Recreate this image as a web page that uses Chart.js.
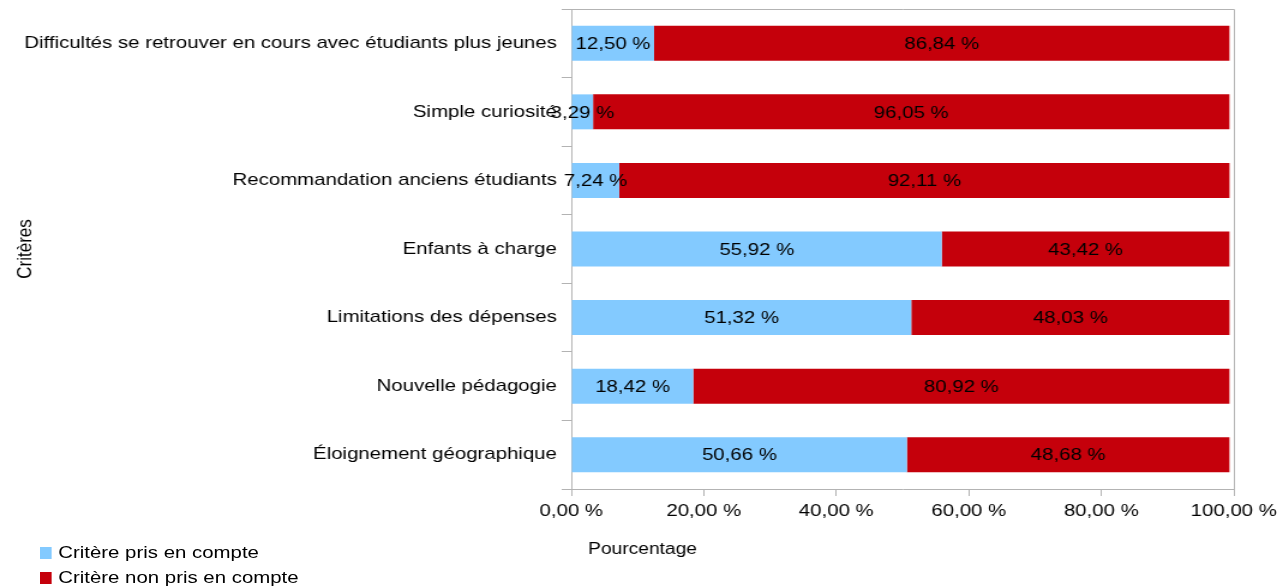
<!DOCTYPE html>
<html><head><meta charset="utf-8">
<script src="https://cdn.jsdelivr.net/npm/chart.js@4"></script>
<style>
html,body{margin:0;padding:0;background:#fff;overflow:hidden;}
#wrap{position:relative;width:1064px;height:587px;transform-origin:0 0;transform:scaleX(1.2002);}
canvas{position:absolute;left:0;top:0;}
.leg{position:absolute;left:32.5px;height:20px;font:17px "Liberation Sans",Arial,sans-serif;color:#000;display:flex;align-items:center;white-space:nowrap;}
.leg i{display:inline-block;width:10px;height:12px;margin-right:6px;}
</style></head><body>
<div id="wrap"><canvas id="c" width="1064" height="587"></canvas><div id="legend"></div></div>
<script>
const categories = [
  'Difficultés se retrouver en cours avec étudiants plus jeunes',
  'Simple curiosité',
  'Recommandation anciens étudiants',
  'Enfants à charge',
  'Limitations des dépenses',
  'Nouvelle pédagogie',
  'Éloignement géographique'
];
const seriesNames = ['Critère pris en compte', 'Critère non pris en compte'];
const prisEnCompte = [12.50, 3.29, 7.24, 55.92, 51.32, 18.42, 50.66];
const nonPrisEnCompte = [86.84, 96.05, 92.11, 43.42, 48.03, 80.92, 48.68];
const xTickValues = [0, 20, 40, 60, 80, 100];
const xAxisTitle = 'Pourcentage';
const yAxisTitle = 'Critères';
const seriesColors = ['#83caff', '#c5000b'];

const FONT = '"Liberation Sans", Arial, sans-serif';
const fmt = v => v.toFixed(2).replace('.', ',') + ' %';

const frame = {
  id: 'frame',
  afterDraw(chart) {
    const {ctx, chartArea: a} = chart;
    ctx.save();
    ctx.strokeStyle = '#b3b3b3';
    ctx.lineWidth = 1;
    ctx.beginPath();
    ctx.moveTo(a.left, a.top + 0.5);
    ctx.lineTo(a.right + 0.5, a.top + 0.5);
    ctx.lineTo(a.right + 0.5, a.bottom);
    ctx.stroke();
    // x axis title, placed just right of the axis origin
    ctx.font = '16px ' + FONT;
    ctx.fillStyle = '#000';
    ctx.textAlign = 'left';
    ctx.textBaseline = 'middle';
    ctx.fillText(xAxisTitle, a.left + 14, a.bottom + 61);
    ctx.restore();
  }
};

const labels = {
  id: 'labels',
  afterDatasetsDraw(chart) {
    const {ctx} = chart;
    ctx.save();
    ctx.font = '17px ' + FONT;
    ctx.fillStyle = '#000';
    ctx.textAlign = 'center';
    ctx.textBaseline = 'middle';
    chart.data.datasets.forEach((ds, di) => {
      chart.getDatasetMeta(di).data.forEach((el, i) => {
        const cx = (el.x + el.base) / 2;
        ctx.fillText(fmt(ds.data[i]), cx, el.y + 1);
      });
    });
    ctx.restore();
  }
};

new Chart(document.getElementById('c'), {
  type: 'bar',
  data: {
    labels: categories,
    datasets: [
      {label: seriesNames[0], data: prisEnCompte, backgroundColor: seriesColors[0]},
      {label: seriesNames[1], data: nonPrisEnCompte, backgroundColor: seriesColors[1]}
    ]
  },
  options: {
    indexAxis: 'y',
    responsive: false,
    devicePixelRatio: 1,
    animation: false,
    barPercentage: 0.51,
    categoryPercentage: 1,
    layout: {padding: {left: 0, right: 36, top: 9, bottom: 0}},
    plugins: {legend: {display: false}, tooltip: {enabled: false}},
    scales: {
      x: {
        stacked: true,
        min: 0, max: 100,
        afterBuildTicks: s => { s.ticks = xTickValues.map(v => ({value: v})); },
        afterFit: s => { s.height = 98; s.paddingLeft = 0; s.paddingRight = 0; },
        ticks: {
          callback: v => fmt(v),
          color: '#000',
          font: {family: FONT, size: 17},
          padding: 5,
          maxRotation: 0
        },
        grid: {drawOnChartArea: false, tickLength: 7, color: '#b3b3b3'},
        border: {color: '#b3b3b3'}
      },
      y: {
        stacked: true,
        afterFit: s => { s.width = 476; s.paddingTop = 0; s.paddingBottom = 0; },
        ticks: {color: '#000', font: {family: FONT, size: 17}, padding: 4},
        grid: {drawOnChartArea: false, offset: true, tickLength: 8, color: '#b3b3b3'},
        border: {color: '#b3b3b3'},
        title: {
          display: true, text: yAxisTitle,
          color: '#000', font: {family: FONT, size: 17},
          padding: {top: 11, bottom: 0}
        }
      }
    }
  },
  plugins: [frame, labels]
});

const legend = document.getElementById('legend');
seriesNames.forEach((n, i) => {
  const d = document.createElement('div');
  d.className = 'leg';
  d.style.top = (543 + i * 25) + 'px';
  d.innerHTML = '<i style="background:' + seriesColors[i] + '"></i>';
  d.appendChild(document.createTextNode(n));
  legend.appendChild(d);
});
</script>
</body></html>
